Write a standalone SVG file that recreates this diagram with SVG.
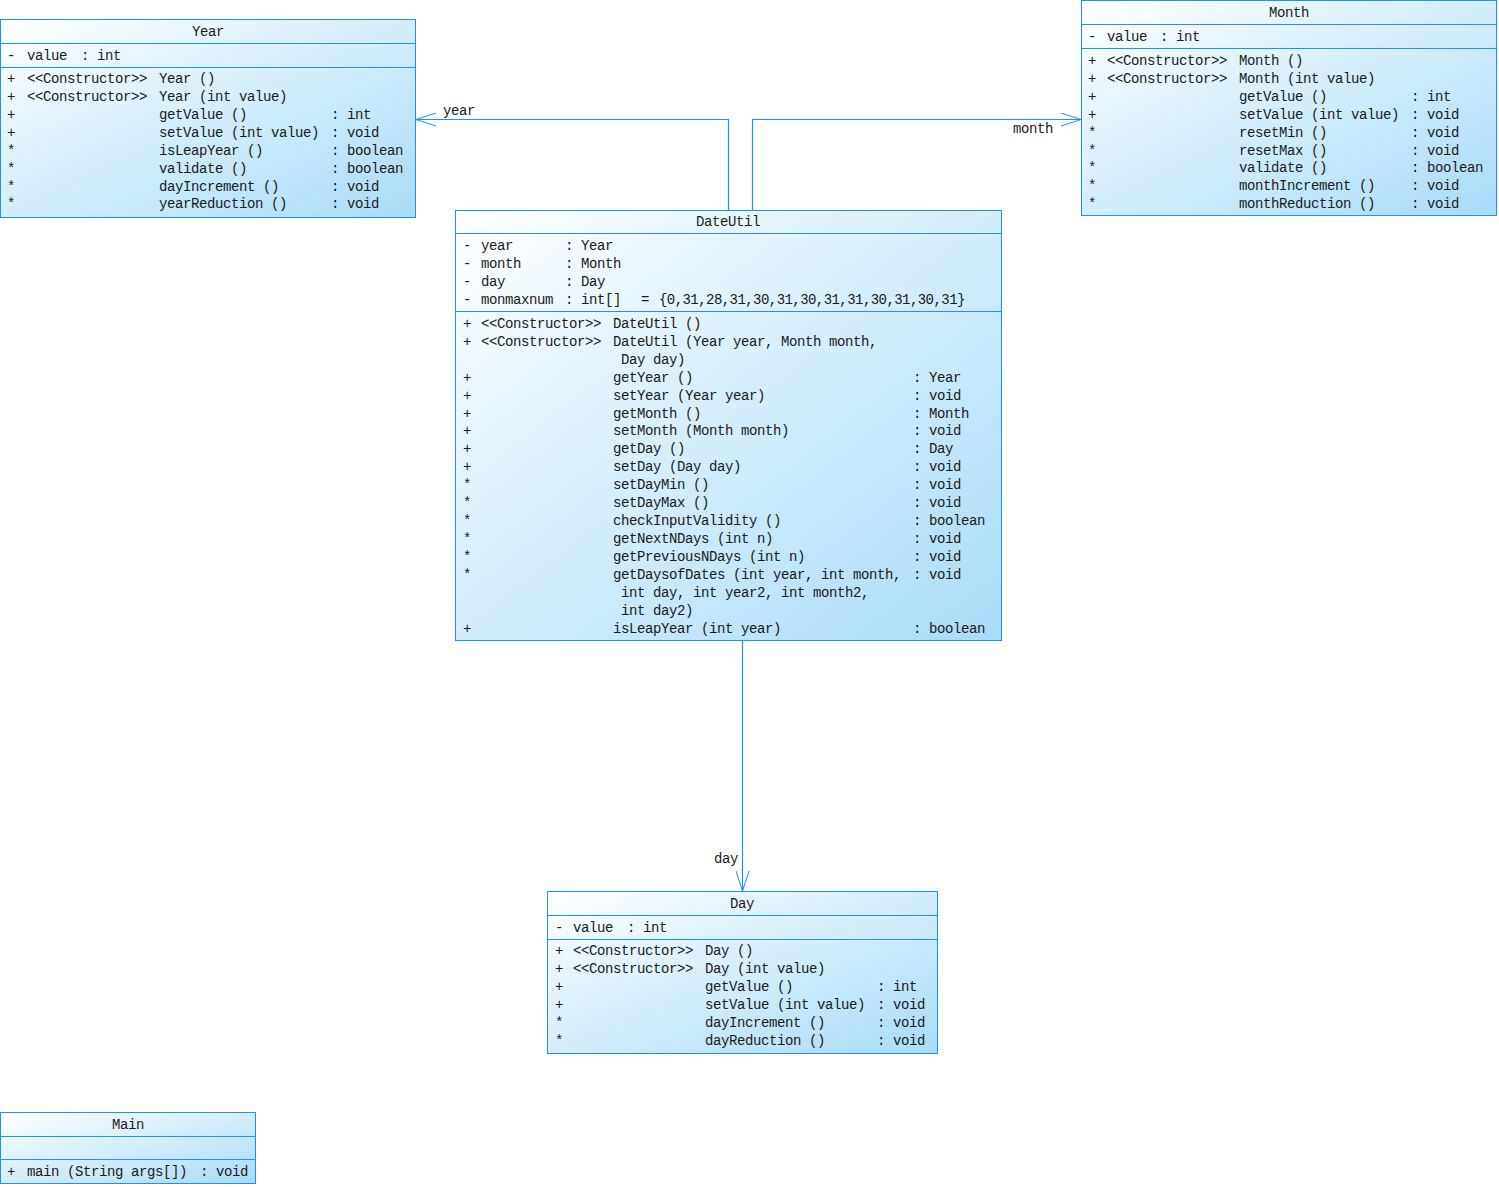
<svg xmlns="http://www.w3.org/2000/svg" width="1499" height="1187" viewBox="0 0 1499 1187">
<defs>
<linearGradient id="bg" x1="0" y1="0" x2="1" y2="1">
<stop offset="0" stop-color="#ffffff"/>
<stop offset="1" stop-color="#a8dcf8"/>
</linearGradient>
<marker id="arr" viewBox="0 0 20 14" refX="20" refY="7" markerWidth="20" markerHeight="14" markerUnits="userSpaceOnUse" orient="auto">
<path d="M0,0.5 L20,7 L0,13.5" fill="none" stroke="#1f8fff" stroke-width="1"/>
</marker>
</defs>
<style>
.box{fill:url(#bg);stroke:#1f8fff;stroke-width:1}
.sep{stroke:#1f8fff;stroke-width:1}
.conn{fill:none;stroke:#1f8fff;stroke-width:1.2}
text{font-family:"Liberation Mono","DejaVu Sans Mono",monospace;font-size:14px;letter-spacing:-0.4px;fill:#1a1a1a;white-space:pre}
.t{text-anchor:middle}
</style>

<g id="connectors">
<polyline class="conn" points="728.5,210 728.5,119.5 416,119.5" marker-end="url(#arr)"/>
<polyline class="conn" points="752.5,210 752.5,119.5 1081,119.5" marker-end="url(#arr)"/>
<line class="conn" x1="742.5" y1="640" x2="742.5" y2="891" marker-end="url(#arr)"/>
<text x="443" y="115">year</text>
<text x="1013" y="133">month</text>
<text x="714" y="863">day</text>
</g>

<g id="Year">
<rect class="box" x="0.5" y="19.5" width="415" height="198"/>
<line class="sep" x1="0.5" y1="43.5" x2="415.5" y2="43.5"/>
<line class="sep" x1="0.5" y1="67.5" x2="415.5" y2="67.5"/>
<text class="t" x="208" y="36">Year</text>
<text x="7" y="60">-</text><text x="27" y="60">value</text><text x="81" y="60">: int</text>
<text x="7" y="83">+</text><text x="27" y="83">&lt;&lt;Constructor&gt;&gt;</text><text x="159" y="83">Year ()</text>
<text x="7" y="101">+</text><text x="27" y="101">&lt;&lt;Constructor&gt;&gt;</text><text x="159" y="101">Year (int value)</text>
<text x="7" y="119">+</text><text x="159" y="119">getValue ()</text><text x="331" y="119">: int</text>
<text x="7" y="137">+</text><text x="159" y="137">setValue (int value)</text><text x="331" y="137">: void</text>
<text x="7" y="155">*</text><text x="159" y="155">isLeapYear ()</text><text x="331" y="155">: boolean</text>
<text x="7" y="173">*</text><text x="159" y="173">validate ()</text><text x="331" y="173">: boolean</text>
<text x="7" y="191">*</text><text x="159" y="191">dayIncrement ()</text><text x="331" y="191">: void</text>
<text x="7" y="208">*</text><text x="159" y="208">yearReduction ()</text><text x="331" y="208">: void</text>
</g>

<g id="Month">
<rect class="box" x="1081.5" y="0.5" width="415" height="215"/>
<line class="sep" x1="1081.5" y1="24.5" x2="1496.5" y2="24.5"/>
<line class="sep" x1="1081.5" y1="48.5" x2="1496.5" y2="48.5"/>
<text class="t" x="1289" y="17">Month</text>
<text x="1088" y="41">-</text><text x="1107" y="41">value</text><text x="1160" y="41">: int</text>
<text x="1088" y="65">+</text><text x="1107" y="65">&lt;&lt;Constructor&gt;&gt;</text><text x="1239" y="65">Month ()</text>
<text x="1088" y="83">+</text><text x="1107" y="83">&lt;&lt;Constructor&gt;&gt;</text><text x="1239" y="83">Month (int value)</text>
<text x="1088" y="101">+</text><text x="1239" y="101">getValue ()</text><text x="1411" y="101">: int</text>
<text x="1088" y="119">+</text><text x="1239" y="119">setValue (int value)</text><text x="1411" y="119">: void</text>
<text x="1088" y="137">*</text><text x="1239" y="137">resetMin ()</text><text x="1411" y="137">: void</text>
<text x="1088" y="155">*</text><text x="1239" y="155">resetMax ()</text><text x="1411" y="155">: void</text>
<text x="1088" y="172">*</text><text x="1239" y="172">validate ()</text><text x="1411" y="172">: boolean</text>
<text x="1088" y="190">*</text><text x="1239" y="190">monthIncrement ()</text><text x="1411" y="190">: void</text>
<text x="1088" y="208">*</text><text x="1239" y="208">monthReduction ()</text><text x="1411" y="208">: void</text>
</g>

<g id="DateUtil">
<rect class="box" x="455.5" y="210.5" width="546" height="430"/>
<line class="sep" x1="455.5" y1="233.5" x2="1001.5" y2="233.5"/>
<line class="sep" x1="455.5" y1="311.5" x2="1001.5" y2="311.5"/>
<text class="t" x="728" y="226">DateUtil</text>
<text x="463" y="250">-</text><text x="481" y="250">year</text><text x="565" y="250">: Year</text>
<text x="463" y="268">-</text><text x="481" y="268">month</text><text x="565" y="268">: Month</text>
<text x="463" y="286">-</text><text x="481" y="286">day</text><text x="565" y="286">: Day</text>
<text x="463" y="304">-</text><text x="481" y="304">monmaxnum</text><text x="565" y="304">: int[]</text><text x="641" y="304">=</text><text x="659" y="304" textLength="306" lengthAdjust="spacing">{0,31,28,31,30,31,30,31,31,30,31,30,31}</text>
<text x="463" y="328">+</text><text x="481" y="328">&lt;&lt;Constructor&gt;&gt;</text><text x="613" y="328">DateUtil ()</text>
<text x="463" y="346">+</text><text x="481" y="346">&lt;&lt;Constructor&gt;&gt;</text><text x="613" y="346">DateUtil (Year year, Month month,</text>
<text x="621" y="364">Day day)</text>
<text x="463" y="382">+</text><text x="613" y="382">getYear ()</text><text x="913" y="382">: Year</text>
<text x="463" y="400">+</text><text x="613" y="400">setYear (Year year)</text><text x="913" y="400">: void</text>
<text x="463" y="418">+</text><text x="613" y="418">getMonth ()</text><text x="913" y="418">: Month</text>
<text x="463" y="435">+</text><text x="613" y="435">setMonth (Month month)</text><text x="913" y="435">: void</text>
<text x="463" y="453">+</text><text x="613" y="453">getDay ()</text><text x="913" y="453">: Day</text>
<text x="463" y="471">+</text><text x="613" y="471">setDay (Day day)</text><text x="913" y="471">: void</text>
<text x="463" y="489">*</text><text x="613" y="489">setDayMin ()</text><text x="913" y="489">: void</text>
<text x="463" y="507">*</text><text x="613" y="507">setDayMax ()</text><text x="913" y="507">: void</text>
<text x="463" y="525">*</text><text x="613" y="525">checkInputValidity ()</text><text x="913" y="525">: boolean</text>
<text x="463" y="543">*</text><text x="613" y="543">getNextNDays (int n)</text><text x="913" y="543">: void</text>
<text x="463" y="561">*</text><text x="613" y="561">getPreviousNDays (int n)</text><text x="913" y="561">: void</text>
<text x="463" y="579">*</text><text x="613" y="579">getDaysofDates (int year, int month,</text><text x="913" y="579">: void</text>
<text x="621" y="597">int day, int year2, int month2,</text>
<text x="621" y="615">int day2)</text>
<text x="463" y="633">+</text><text x="613" y="633">isLeapYear (int year)</text><text x="913" y="633">: boolean</text>
</g>

<g id="Day">
<rect class="box" x="547.5" y="891.5" width="390" height="162"/>
<line class="sep" x1="547.5" y1="915.5" x2="937.5" y2="915.5"/>
<line class="sep" x1="547.5" y1="939.5" x2="937.5" y2="939.5"/>
<text class="t" x="742" y="908">Day</text>
<text x="555" y="932">-</text><text x="573" y="932">value</text><text x="627" y="932">: int</text>
<text x="555" y="955">+</text><text x="573" y="955">&lt;&lt;Constructor&gt;&gt;</text><text x="705" y="955">Day ()</text>
<text x="555" y="973">+</text><text x="573" y="973">&lt;&lt;Constructor&gt;&gt;</text><text x="705" y="973">Day (int value)</text>
<text x="555" y="991">+</text><text x="705" y="991">getValue ()</text><text x="877" y="991">: int</text>
<text x="555" y="1009">+</text><text x="705" y="1009">setValue (int value)</text><text x="877" y="1009">: void</text>
<text x="555" y="1027">*</text><text x="705" y="1027">dayIncrement ()</text><text x="877" y="1027">: void</text>
<text x="555" y="1045">*</text><text x="705" y="1045">dayReduction ()</text><text x="877" y="1045">: void</text>
</g>

<g id="Main">
<rect class="box" x="0.5" y="1112.5" width="255" height="71"/>
<line class="sep" x1="0.5" y1="1136.5" x2="255.5" y2="1136.5"/>
<line class="sep" x1="0.5" y1="1159.5" x2="255.5" y2="1159.5"/>
<text class="t" x="128" y="1129">Main</text>
<text x="7" y="1176">+</text><text x="27" y="1176">main (String args[])</text><text x="200" y="1176">: void</text>
</g>
</svg>
